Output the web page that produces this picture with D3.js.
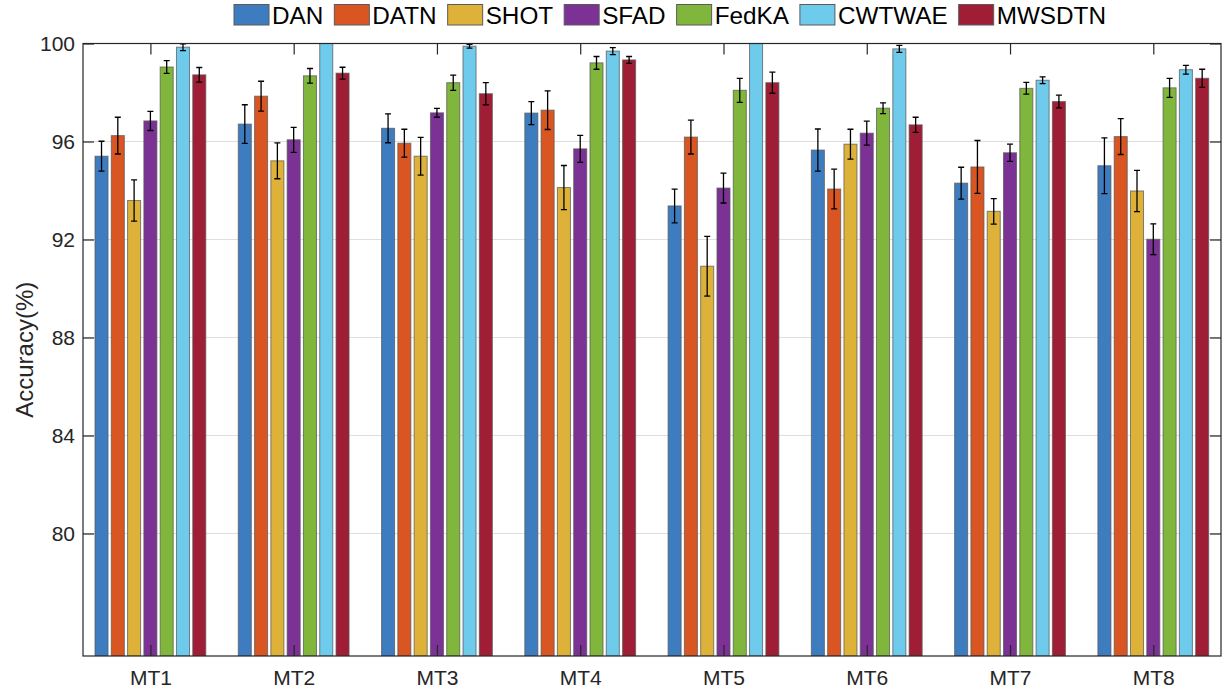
<!DOCTYPE html>
<html>
<head>
<meta charset="utf-8">
<script src="https://cdn.jsdelivr.net/npm/d3@7"></script>
<style>
  html, body { margin: 0; padding: 0; background: #fff; }
  svg { display: block; font-family: "Liberation Sans", Arial, sans-serif; }
</style>
</head>
<body>
<svg id="chart" width="1222" height="693"></svg>
<script>
const categories = ["MT1", "MT2", "MT3", "MT4", "MT5", "MT6", "MT7", "MT8"];
const seriesNames = ["DAN", "DATN", "SHOT", "SFAD", "FedKA", "CWTWAE", "MWSDTN"];
const seriesColors = ["#3E7CC0", "#D95623", "#DEB238", "#7B3294", "#80B63B", "#6ECBEC", "#A01E35"];

const DAN    = [95.40, 96.71, 96.54, 97.16, 93.37, 95.65, 94.30, 95.01];
const DATN   = [96.24, 97.85, 95.93, 97.28, 96.18, 94.06, 94.96, 96.20];
const SHOT   = [93.59, 95.21, 95.40, 94.12, 90.91, 95.89, 93.15, 93.98];
const SFAD   = [96.84, 96.07, 97.17, 95.70, 94.10, 96.34, 95.54, 92.01];
const FedKA  = [99.04, 98.68, 98.40, 99.21, 98.09, 97.36, 98.17, 98.19];
const CWTWAE = [99.85, 100.20, 99.89, 99.69, 100.20, 99.78, 98.50, 98.93];
const MWSDTN = [98.72, 98.79, 97.95, 99.33, 98.40, 96.68, 97.63, 98.58];

const DAN_err    = [0.61, 0.79, 0.59, 0.47, 0.69, 0.86, 0.65, 1.14];
const DATN_err   = [0.75, 0.61, 0.57, 0.79, 0.69, 0.81, 1.08, 0.73];
const SHOT_err   = [0.84, 0.73, 0.77, 0.90, 1.22, 0.61, 0.52, 0.84];
const SFAD_err   = [0.39, 0.51, 0.18, 0.55, 0.61, 0.49, 0.35, 0.63];
const FedKA_err  = [0.26, 0.30, 0.31, 0.26, 0.49, 0.22, 0.24, 0.39];
const CWTWAE_err = [0.14, 0.15, 0.08, 0.14, 0.15, 0.14, 0.14, 0.18];
const MWSDTN_err = [0.30, 0.24, 0.45, 0.14, 0.43, 0.31, 0.26, 0.37];

const yTicks = [80, 84, 88, 92, 96, 100];
const yDomain = [75, 100];

const values = [DAN, DATN, SHOT, SFAD, FedKA, CWTWAE, MWSDTN];
const errors = [DAN_err, DATN_err, SHOT_err, SFAD_err, FedKA_err, CWTWAE_err, MWSDTN_err];

const svg = d3.select("#chart");
const pL = 83, pR = 1221, pT = 43.5, pB = 656;
const axisColor = "#262626";

const y = d3.scaleLinear().domain(yDomain).range([pB, pT]);
const xIdx = d3.scaleLinear().domain([0, categories.length - 1]).range([150.4, 1153.3]);
const xSub = d3.scaleBand().domain(seriesNames).range([-55.4, 55.4]).paddingInner(0.2);

// clip
svg.append("defs").append("clipPath").attr("id", "plotClip")
  .append("rect").attr("x", pL).attr("y", pT).attr("width", pR - pL).attr("height", pB - pT);

// gridlines
svg.append("g").selectAll("line").data(yTicks.filter(t => t < 100)).join("line")
  .attr("x1", pL).attr("x2", pR)
  .attr("y1", d => y(d)).attr("y2", d => y(d))
  .attr("stroke", "#dedede").attr("stroke-width", 1);

// bars
const plot = svg.append("g").attr("clip-path", "url(#plotClip)");
const records = [];
categories.forEach((c, i) => {
  seriesNames.forEach((s, j) => {
    records.push({ cat: c, i, s, j, v: values[j][i], e: errors[j][i] });
  });
});

plot.selectAll("rect.bar").data(records).join("rect")
  .attr("class", "bar")
  .attr("x", d => xIdx(d.i) + xSub(d.s))
  .attr("width", xSub.bandwidth())
  .attr("y", d => y(d.v))
  .attr("height", d => pB - y(d.v))
  .attr("fill", d => seriesColors[d.j])
  .attr("stroke", "#5a5a5a")
  .attr("stroke-opacity", 0.75)
  .attr("stroke-width", 1);

// error bars
const eb = plot.append("g").attr("stroke", "#000").attr("stroke-width", 1.3);
records.forEach(d => {
  const cx = xIdx(d.i) + xSub(d.s) + xSub.bandwidth() / 2;
  const y1 = y(d.v + d.e), y2 = y(d.v - d.e);
  eb.append("line").attr("x1", cx).attr("x2", cx).attr("y1", y1).attr("y2", y2);
  eb.append("line").attr("x1", cx - 3).attr("x2", cx + 3).attr("y1", y1).attr("y2", y1);
  eb.append("line").attr("x1", cx - 3).attr("x2", cx + 3).attr("y1", y2).attr("y2", y2);
});

// axes box
const axG = svg.append("g").attr("stroke", axisColor).attr("stroke-width", 1.2).attr("fill", "none");
axG.append("rect").attr("x", pL).attr("y", pT).attr("width", pR - pL).attr("height", pB - pT);

// y axis (left) with inward ticks
const yAxisL = d3.axisLeft(y).tickValues(yTicks).tickSize(-11).tickPadding(8).tickFormat(d3.format("d"));
const gyl = svg.append("g").attr("transform", `translate(${pL},0)`).call(yAxisL);
gyl.select(".domain").remove();
gyl.selectAll(".tick line").attr("stroke", axisColor).attr("stroke-width", 1.2);
gyl.selectAll(".tick text").attr("fill", axisColor).attr("font-size", 21)
  .attr("font-family", "Liberation Sans, Arial, sans-serif");

// y axis (right) ticks only
const yAxisR = d3.axisRight(y).tickValues(yTicks).tickSize(-11).tickFormat("");
const gyr = svg.append("g").attr("transform", `translate(${pR},0)`).call(yAxisR);
gyr.select(".domain").remove();
gyr.selectAll(".tick line").attr("stroke", axisColor).attr("stroke-width", 1.2);

// x axis (bottom)
const xAxisB = d3.axisBottom(xIdx).tickValues(d3.range(categories.length))
  .tickSize(-11).tickPadding(14).tickFormat(i => categories[i]);
const gxb = svg.append("g").attr("transform", `translate(0,${pB})`).call(xAxisB);
gxb.select(".domain").remove();
gxb.selectAll(".tick line").attr("stroke", axisColor).attr("stroke-width", 1.2);
gxb.selectAll(".tick text").attr("fill", axisColor).attr("font-size", 21)
  .attr("font-family", "Liberation Sans, Arial, sans-serif");

// x axis (top) ticks only
const xAxisT = d3.axisTop(xIdx).tickValues(d3.range(categories.length)).tickSize(-11).tickFormat("");
const gxt = svg.append("g").attr("transform", `translate(0,${pT})`).call(xAxisT);
gxt.select(".domain").remove();
gxt.selectAll(".tick line").attr("stroke", axisColor).attr("stroke-width", 1.2);

// y label
svg.append("text")
  .attr("transform", `translate(33,${(pT + pB) / 2}) rotate(-90)`)
  .attr("text-anchor", "middle")
  .attr("font-size", 24)
  .attr("fill", axisColor)
  .text("Accuracy(%)");

// legend
const legend = svg.append("g");
let lx = 234;
seriesNames.forEach((s, j) => {
  const g = legend.append("g").attr("transform", `translate(${lx},4.5)`);
  g.append("rect").attr("width", 35).attr("height", 20.5)
    .attr("fill", seriesColors[j]).attr("stroke", "#5a5a5a").attr("stroke-width", 1);
  const t = g.append("text").attr("x", 38).attr("y", 19.5)
    .attr("font-size", 24.3).attr("fill", "#000").text(s);
  const w = t.node().getComputedTextLength();
  lx += 38 + w + 11;
});
</script>
</body>
</html>
